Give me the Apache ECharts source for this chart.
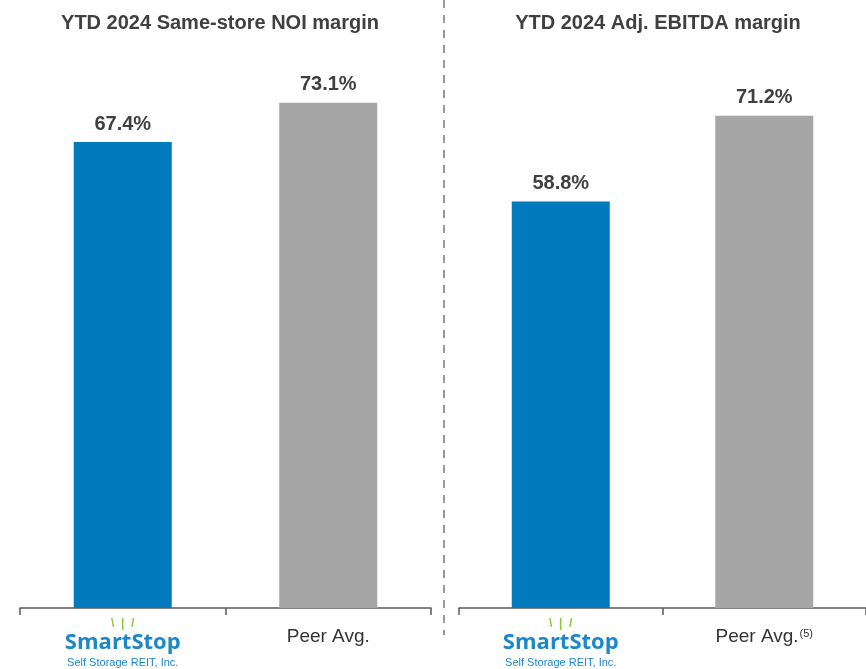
<!DOCTYPE html>
<html>
<head>
<meta charset="utf-8">
<script src="https://cdn.jsdelivr.net/npm/echarts@6/dist/echarts.min.js"></script>
<style>
	html, body { margin: 0; padding: 0; background: #fff; }
	#chart { width: 866px; height: 669px; }
</style>
</head>
<body>
<div id="chart"></div>
<script>
// 数据
var categories = ['SmartStop', 'Peer Avg.']
var noiMargin = [67.4, 73.1]
var ebitdaMargin = [58.8, 71.2]
var titles = ['YTD 2024 Same-store NOI margin', 'YTD 2024 Adj. EBITDA margin']
var barColors = ['#007ABD', '#A6A6A6']

var myChart = echarts.init(document.getElementById('chart'))
myChart.setOption(getOption())

function getOption() {
	return {
		animation: false,
		textStyle: { fontFamily: 'Liberation Sans, Arial, sans-serif' },
		title: [
			{ text: titles[0], left: 215, top: 8, textAlign: 'center', textStyle: titleStyle() },
			{ text: titles[1], left: 653, top: 8, textAlign: 'center', textStyle: titleStyle() }
		],
		grid: [
			{ left: 20, width: 411, top: 55, bottom: 61 },
			{ left: 459, width: 412, top: 55, bottom: 61 }
		],
		xAxis: [xAxis(0, false), xAxis(1, true)],
		yAxis: [yAxis(0), yAxis(1)],
		series: [barSeries(0, noiMargin), barSeries(1, ebitdaMargin)],
		graphic: [
			{
				type: 'line',
				shape: { x1: 444, y1: 0, x2: 444, y2: 635 },
				style: { stroke: '#999', lineWidth: 2, lineDash: [8, 7] }
			}
		]
	}
}

function titleStyle() {
	return { fontSize: 20, fontWeight: 'bold', color: '#404040' }
}

function xAxis(idx, footnote) {
	return {
		type: 'category',
		gridIndex: idx,
		data: categories,
		axisLine: { lineStyle: { color: '#595959', width: 1.5 } },
		axisTick: { show: true, inside: false, length: 7, lineStyle: { color: '#595959', width: 1.5 } },
		axisLabel: {
			margin: 10,
			interval: 0,
			formatter: function (v, i) {
				if (i === 0) {
					return '{ray|\\  |  /}\n{logo|SmartStop}\n{sub|Self Storage REIT, Inc.}'
				}
				return footnote ? '{peer|' + v + '}{sup|(5)}' : '{peer|' + v + '}'
			},
			rich: {
				ray: { fontSize: 12, fontWeight: 'bold', color: '#8DC63F', lineHeight: 11 },
				logo: { fontSize: 22, fontWeight: 'bold', color: '#1C87C9', lineHeight: 27, fontFamily: 'Open Sans' },
				sub: { fontSize: 11, color: '#1C87C9', lineHeight: 14 },
				peer: { fontSize: 19, color: '#333', lineHeight: 22, padding: [15, 0, 0, 0] },
				sup: { fontSize: 11, color: '#333', padding: [10, 0, 0, 1] }
			}
		}
	}
}

function yAxis(idx) {
	return { type: 'value', gridIndex: idx, min: 0, max: 80, show: false, splitLine: { show: false } }
}

function barSeries(idx, values) {
	return {
		type: 'bar',
		xAxisIndex: idx,
		yAxisIndex: idx,
		barWidth: 98,
		data: values.map(function (v, i) {
			return { value: v, itemStyle: { color: barColors[i] } }
		}),
		label: {
			show: true,
			position: 'top',
			distance: 8,
			fontSize: 20,
			fontWeight: 'bold',
			color: '#404040',
			formatter: '{c}%'
		}
	}
}
</script>
</body>
</html>
